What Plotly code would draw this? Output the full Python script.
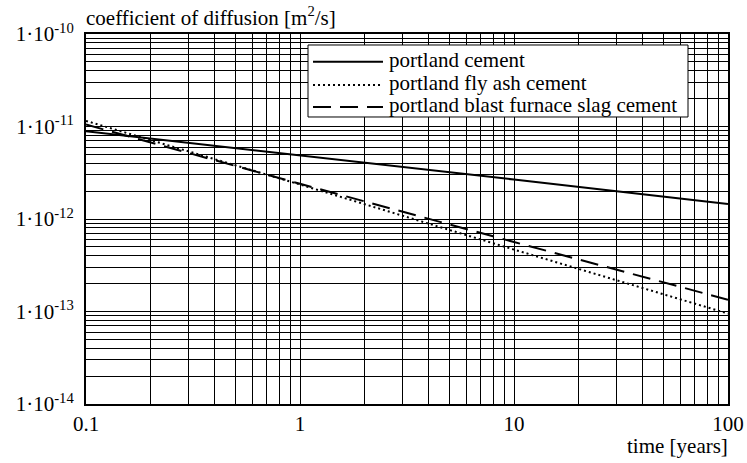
import plotly.graph_objects as go

# time axis (years) and diffusion coefficients (m^2/s) read at each decade
time_years = [0.1, 1, 10, 100]
portland_cement = [8.9e-12, 4.9e-12, 2.67e-12, 1.45e-12]
portland_fly_ash = [1.15e-11, 2.36e-12, 4.67e-13, 9.5e-14]
portland_slag = [1.05e-11, 2.4e-12, 5.64e-13, 1.34e-13]

series_names = ["portland cement", "portland fly ash cement",
                "portland blast furnace slag cement"]
series_dashes = ["solid", "2px,3px", "18px,9px"]

x_tick_vals = [0.1, 1, 10, 100]
x_tick_text = ["0.1", "1", "10", "100"]
y_tick_vals = [1e-14, 1e-13, 1e-12, 1e-11, 1e-10]
y_tick_text = ["1·10<sup>-14</sup>", "1·10<sup>-13</sup>", "1·10<sup>-12</sup>",
               "1·10<sup>-11</sup>", "1·10<sup>-10</sup>"]

# intermediate grid lines (2..9 within every decade)
x_minor = [m * 10.0 ** e for e in range(-1, 2) for m in range(2, 10)]
y_minor = [m * 10.0 ** e for e in range(-14, -10) for m in range(2, 10)]

FONT = "'Liberation Serif', 'Times New Roman', Times, 'DejaVu Serif', serif"
FS = 21

fig = go.Figure()
for name, values, dash in zip(series_names,
                              [portland_cement, portland_fly_ash, portland_slag],
                              series_dashes):
    fig.add_trace(go.Scatter(x=time_years, y=values, mode="lines", name=name,
                             showlegend=False,
                             line=dict(color="black", width=2, dash=dash)))

axis_common = dict(
    showline=True, mirror=True, linecolor="black", linewidth=2,
    showgrid=True, gridcolor="black", gridwidth=1,
    ticks="", zeroline=False, automargin=False,
    tickfont=dict(family=FONT, size=FS, color="black"),
)

fig.update_xaxes(type="log", range=[-1, 2], tickmode="array",
                 tickvals=x_tick_vals, ticktext=x_tick_text,
                 minor=dict(tickmode="array", tickvals=x_minor, showgrid=True,
                            gridcolor="black", gridwidth=1, ticks=""),
                 **axis_common)
fig.update_yaxes(type="log", range=[-14, -10], tickmode="array",
                 tickvals=y_tick_vals, ticktext=y_tick_text,
                 minor=dict(tickmode="array", tickvals=y_minor, showgrid=True,
                            gridcolor="black", gridwidth=1, ticks=""),
                 ticklabelstandoff=6,
                 **axis_common)

fig.add_annotation(text="coefficient of diffusion [m<sup>2</sup>/s]",
                   xref="paper", yref="paper", x=0, y=1,
                   xanchor="left", yanchor="bottom", yshift=2, xshift=-2,
                   showarrow=False,
                   font=dict(family=FONT, size=FS, color="black"))
fig.add_annotation(text="time [years]",
                   xref="paper", yref="paper", x=1, y=0,
                   xanchor="right", yanchor="top", yshift=-28, xshift=2,
                   showarrow=False,
                   font=dict(family=FONT, size=FS, color="black"))

# legend box with line samples and labels (paper coordinates)
box_x0, box_x1, box_y0, box_y1 = 0.3458, 0.9377, 0.7757, 0.9703
sample_x0, sample_x1, label_x = 0.3536, 0.4626, 0.4688
row_y = [0.9251, 0.8622, 0.8027]

fig.add_shape(type="rect", xref="paper", yref="paper",
              x0=box_x0, x1=box_x1, y0=box_y0, y1=box_y1,
              fillcolor="white", line=dict(color="black", width=1),
              layer="above")
for name, dash, ry in zip(series_names, series_dashes, row_y):
    fig.add_shape(type="line", xref="paper", yref="paper",
                  x0=sample_x0, x1=sample_x1, y0=ry, y1=ry,
                  line=dict(color="black", width=2, dash=dash),
                  layer="above")
    fig.add_annotation(text=name, xref="paper", yref="paper",
                       x=label_x, y=ry, xanchor="left", yanchor="middle",
                       yshift=2, showarrow=False,
                       font=dict(family=FONT, size=FS, color="black"))

fig.update_layout(
    width=747, height=463,
    margin=dict(l=86, r=19, t=34, b=59, autoexpand=False),
    paper_bgcolor="white", plot_bgcolor="white",
    font=dict(family=FONT, size=FS, color="black"),
    showlegend=False,
    hovermode=False,
)

fig.write_html("out.html")
